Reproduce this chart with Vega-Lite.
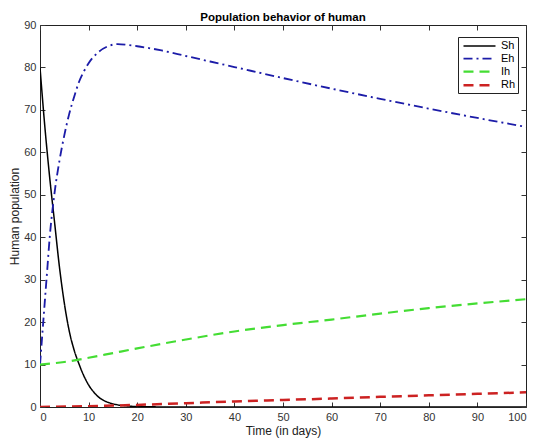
{
  "$schema": "https://vega.github.io/schema/vega-lite/v6.json",
  "width": 486,
  "height": 382,
  "autosize": {"type": "none"},
  "padding": {"left": 40, "top": 25, "right": 8, "bottom": 35},
  "background": "white",
  "title": {"text": "Population behavior of human", "font": "Liberation Sans", "fontSize": 11.5, "fontWeight": "bold", "color": "black", "offset": -4},
  "config": {
    "view": {"stroke": "#222", "strokeWidth": 1},
    "axis": {"grid": false, "domain": false, "tickColor": "#333", "tickSize": -5, "labelFont": "Liberation Sans", "labelFontSize": 11, "labelColor": "#333", "titleFont": "Liberation Sans", "titleFontSize": 12, "titleFontWeight": "normal", "titleColor": "#222"},
    "legend": {"labelFont": "Liberation Sans"}
  },
  "datasets": {
    "pop": [
      {"t":0,"v":80,"s":"Sh"},{"t":1,"v":66,"s":"Sh"},{"t":2,"v":54,"s":"Sh"},{"t":3,"v":43.5,"s":"Sh"},{"t":4,"v":33,"s":"Sh"},{"t":5,"v":24.5,"s":"Sh"},{"t":6,"v":18,"s":"Sh"},{"t":7,"v":13.5,"s":"Sh"},{"t":8,"v":10.2,"s":"Sh"},{"t":9,"v":7.4,"s":"Sh"},{"t":10,"v":5.2,"s":"Sh"},{"t":11,"v":3.6,"s":"Sh"},{"t":12,"v":2.4,"s":"Sh"},{"t":13,"v":1.6,"s":"Sh"},{"t":14,"v":1.1,"s":"Sh"},{"t":16,"v":0.5,"s":"Sh"},{"t":18,"v":0.25,"s":"Sh"},{"t":20,"v":0.1,"s":"Sh"},{"t":25,"v":0.02,"s":"Sh"},{"t":30,"v":0,"s":"Sh"},{"t":100,"v":0,"s":"Sh"},
      {"t":0,"v":10,"s":"Eh"},{"t":0.5,"v":17.5,"s":"Eh"},{"t":1,"v":25,"s":"Eh"},{"t":1.5,"v":32.5,"s":"Eh"},{"t":2,"v":40,"s":"Eh"},{"t":3,"v":50.5,"s":"Eh"},{"t":4,"v":58,"s":"Eh"},{"t":5,"v":64,"s":"Eh"},{"t":6,"v":69,"s":"Eh"},{"t":7,"v":73,"s":"Eh"},{"t":8,"v":76.5,"s":"Eh"},{"t":9,"v":79,"s":"Eh"},{"t":10,"v":81,"s":"Eh"},{"t":12,"v":83.6,"s":"Eh"},{"t":14,"v":85,"s":"Eh"},{"t":16,"v":85.5,"s":"Eh"},{"t":18,"v":85.3,"s":"Eh"},{"t":20,"v":85,"s":"Eh"},{"t":25,"v":84,"s":"Eh"},{"t":30,"v":82.7,"s":"Eh"},{"t":35,"v":81.4,"s":"Eh"},{"t":40,"v":80.1,"s":"Eh"},{"t":50,"v":77.5,"s":"Eh"},{"t":60,"v":75,"s":"Eh"},{"t":70,"v":72.6,"s":"Eh"},{"t":80,"v":70.3,"s":"Eh"},{"t":90,"v":68.1,"s":"Eh"},{"t":100,"v":66,"s":"Eh"},
      {"t":0,"v":10,"s":"Ih"},{"t":5,"v":10.6,"s":"Ih"},{"t":10,"v":11.6,"s":"Ih"},{"t":15,"v":12.7,"s":"Ih"},{"t":20,"v":13.8,"s":"Ih"},{"t":30,"v":15.9,"s":"Ih"},{"t":40,"v":17.8,"s":"Ih"},{"t":50,"v":19.3,"s":"Ih"},{"t":60,"v":20.6,"s":"Ih"},{"t":70,"v":22,"s":"Ih"},{"t":80,"v":23.3,"s":"Ih"},{"t":90,"v":24.4,"s":"Ih"},{"t":100,"v":25.4,"s":"Ih"},
      {"t":0,"v":0,"s":"Rh"},{"t":10,"v":0.2,"s":"Rh"},{"t":20,"v":0.5,"s":"Rh"},{"t":30,"v":0.9,"s":"Rh"},{"t":40,"v":1.3,"s":"Rh"},{"t":50,"v":1.65,"s":"Rh"},{"t":60,"v":2,"s":"Rh"},{"t":70,"v":2.4,"s":"Rh"},{"t":80,"v":2.75,"s":"Rh"},{"t":90,"v":3.1,"s":"Rh"},{"t":100,"v":3.45,"s":"Rh"}
    ]
  },
  "data": {"name": "pop"},
  "resolve": {"axis": {"x": "independent", "y": "independent"}},
  "layer": [
    {
      "mark": {"type": "line", "interpolate": "monotone", "strokeCap": "butt", "clip": true},
      "encoding": {
        "x": {"field": "t", "type": "quantitative", "scale": {"domain": [0, 100], "nice": false}, "axis": {"title": "Time (in days)", "values": [0,10,20,30,40,50,60,70,80,90,100], "labelPadding": 9, "titlePadding": 3}},
        "y": {"field": "v", "type": "quantitative", "scale": {"domain": [0, 90], "nice": false}, "axis": {"title": "Human population", "values": [0,10,20,30,40,50,60,70,80,90], "labelPadding": 9, "titlePadding": 2}},
        "color": {"field": "s", "type": "nominal", "scale": {"domain": ["Sh","Eh","Ih","Rh"], "range": ["#000000","#1c1ca8","#44dd33","#cc2222"]}, "legend": {"title": null, "orient": "none", "legendX": 418, "legendY": 12, "strokeColor": "#222", "fillColor": "white", "padding": 2, "symbolType": "M-2.667,0L2.667,0", "symbolSize": 144, "symbolOffset": 12, "labelOffset": 14, "symbolStrokeWidth": 2.5, "labelFontSize": 11, "labelColor": "black", "rowPadding": 0.6}},
        "strokeDash": {"field": "s", "type": "nominal", "scale": {"domain": ["Sh","Eh","Ih","Rh"], "range": [[1,0],[9,4,2,4],[10,6],[10,6]]}},
        "strokeWidth": {"field": "s", "type": "nominal", "scale": {"domain": ["Sh","Eh","Ih","Rh"], "range": [1.5,2.5,2.5,2.5]}, "legend": null}
      }
    },
    {
      "mark": {"type": "point", "opacity": 0},
      "encoding": {
        "x": {"field": "t", "type": "quantitative", "axis": {"orient": "top", "title": null, "labels": false, "values": [0,10,20,30,40,50,60,70,80,90,100]}},
        "y": {"field": "v", "type": "quantitative", "axis": {"orient": "right", "title": null, "labels": false, "values": [0,10,20,30,40,50,60,70,80,90]}}
      }
    }
  ]
}
